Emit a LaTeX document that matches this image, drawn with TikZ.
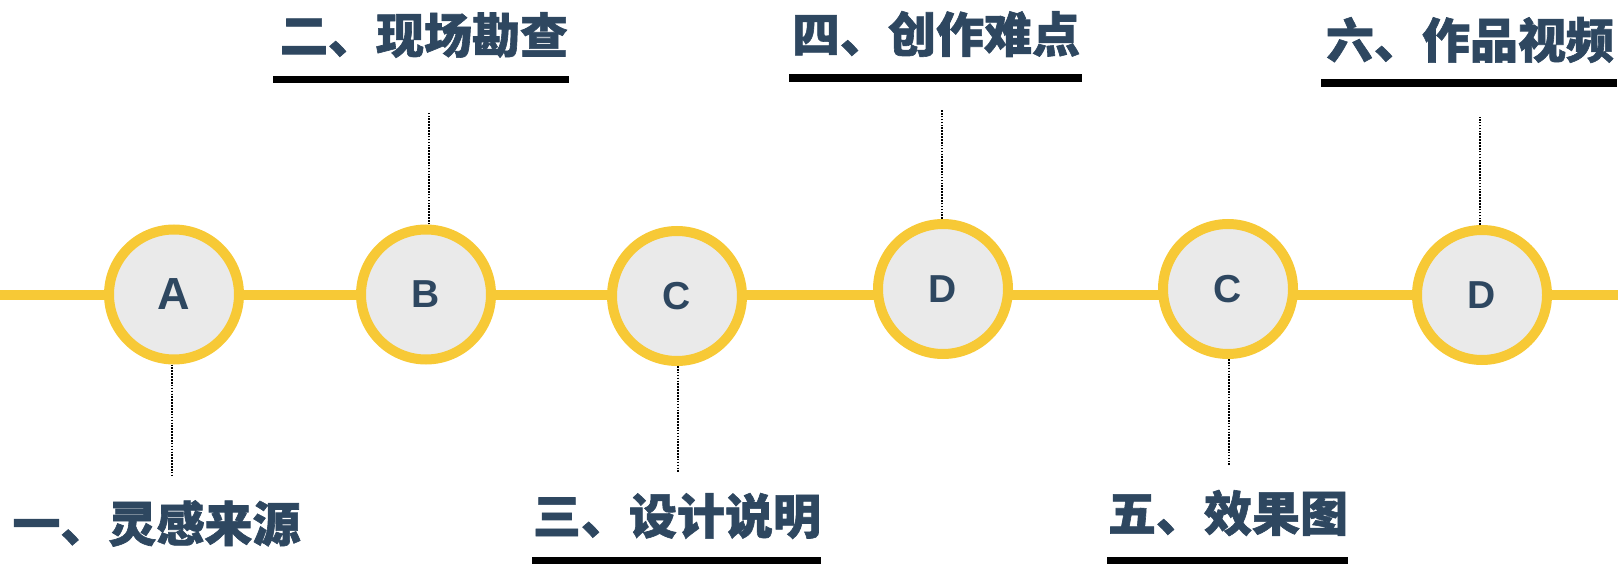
\documentclass[tikz,border=0pt]{standalone}
\usepackage{fontspec}
\setmainfont{Liberation Sans}
\newfontfamily\cjk{Noto Sans CJK SC}[BoldFeatures={FakeBold=1.3}]
\definecolor{ring}{HTML}{F7C936}
\definecolor{disc}{HTML}{EAEAEA}
\definecolor{ink}{HTML}{2E4760}
\begin{document}
\begin{tikzpicture}[x=1pt,y=-1pt,
  stage/.style={circle,draw=ring,fill=disc,line width=10pt,minimum size=130pt,inner sep=0pt,
     text=ink,font=\bfseries\fontsize{39}{39}\selectfont},
  title/.style={inner sep=0pt,text=ink,font=\cjk\bfseries\fontsize{48}{48}\selectfont},
  bar/.style={line width=7.5pt,black},
  lead/.style={black,line width=1.6pt,dash pattern=on 1.6pt off 1.3pt}]
\useasboundingbox (0,0) rectangle (1618,564);
\coordinate (L) at (0,295);
\coordinate (R) at (1618,295);
\draw[ring,line width=10pt] (L) -- (R);
\node[stage,font=\bfseries\fontsize{45}{45}\selectfont] (A) at (174,294.5) {A};
\node[stage] (B) at (426,294.5) {B};
\node[stage] (C1) at (677,296) {C};
\node[stage] (D1) at (943,289) {D};
\node[stage] (C2) at (1228,289) {C};
\node[stage] (D2) at (1482,295) {D};
% titles
\node[title] (t1) at (156.5,523.5) {一、灵感来源};
\node[title] (t2) at (424,35) {二、现场勘查};
\node[title] (t3) at (677,516) {三、设计说明};
\node[title] (t4) at (936,34) {四、创作难点};
\node[title] (t5) at (1228,513) {五、效果图};
\node[title] (t6) at (1470,40) {六、作品视频};
% underlines
\draw[bar] (273,79.5) -- (569,79.5);
\draw[bar] (532,560.5) -- (821,560.5);
\draw[bar] (789,78) -- (1082,78);
\draw[bar] (1107,560.5) -- (1348,560.5);
\draw[bar] (1321,83) -- (1617,83);
% leader lines
\coordinate (eA) at (172,475);
\coordinate (eB) at (429,113);
\coordinate (eC1) at (678,472);
\coordinate (eD1) at (942,110);
\coordinate (eC2) at (1229,466);
\coordinate (eD2) at (1480,117);
\draw[lead] (A.south -| eA) -- (eA);
\draw[lead] (B.north -| eB) -- (eB);
\draw[lead] (C1.south -| eC1) -- (eC1);
\draw[lead] (D1.north -| eD1) -- (eD1);
\draw[lead] (C2.south -| eC2) -- (eC2);
\draw[lead] (D2.north -| eD2) -- (eD2);
\end{tikzpicture}
\end{document}
